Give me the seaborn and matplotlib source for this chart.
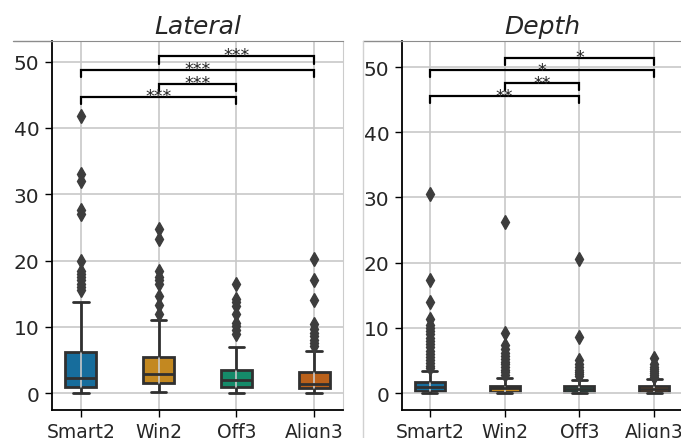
import pandas as pd
import matplotlib.pyplot as plt
from matplotlib.lines import Line2D
import seaborn as sns

groups = ["Smart2", "Win2", "Off3", "Align3"]

# Lateral: box stats
lat_lo = [0.0, 0.15, 0.1, 0.0]
lat_q1 = [1.0, 1.5, 0.9, 0.75]
lat_med = [2.36, 2.9, 2.0, 1.4]
lat_q3 = [6.27, 5.52, 3.5, 3.26]
lat_hi = [13.7, 11.05, 7.0, 6.33]
lat_fliers = [
    [15.6, 16.0, 16.4, 17.0, 17.5, 18.0, 18.4, 20.0, 27.0, 27.6, 32.0, 33.0, 41.8],
    [12.0, 13.3, 14.7, 16.5, 17.0, 17.5, 18.5, 23.3, 24.8],
    [9.0, 9.6, 10.2, 10.6, 12.0, 13.2, 13.7, 14.2, 16.5],
    [7.2, 7.6, 8.1, 8.6, 9.1, 9.7, 10.4, 14.1, 17.1, 20.3],
]

# Depth
dep_lo = [0.0, 0.0, 0.0, 0.0]
dep_q1 = [0.25, 0.2, 0.15, 0.2]
dep_med = [0.97, 0.77, 0.66, 0.66]
dep_q3 = [1.64, 1.12, 1.03, 1.07]
dep_hi = [3.33, 2.25, 2.0, 2.15]
dep_fliers = [
    [3.8, 4.2, 4.6, 5.0, 5.5, 6.0, 6.5, 7.0, 7.5, 8.0, 8.5, 9.0, 9.5, 10.0, 10.5, 11.3, 13.9, 17.4, 30.5],
    [2.8, 3.2, 3.6, 4.0, 4.4, 4.8, 5.2, 5.7, 6.2, 6.8, 7.4, 9.2, 26.2],
    [2.6, 2.9, 3.2, 3.6, 4.0, 4.5, 5.1, 8.6, 20.5],
    [2.5, 2.8, 3.1, 3.4, 3.7, 4.0, 4.5, 5.3],
]

# significance brackets
pairs = [(0, 2), (1, 2), (0, 3), (1, 3)]
lat_bar_y = [44.7, 46.65, 48.8, 50.8]
lat_stars = ["***", "***", "***", "***"]
dep_bar_y = [45.5, 47.5, 49.5, 51.4]
dep_stars = ["**", "**", "*", "*"]


def to_frame(lo, q1, med, q3, hi, fliers):
    # rebuild a sample whose quartiles/whiskers/outliers match the stats
    rows = []
    for i, g in enumerate(groups):
        k = len(fliers[i]) + 1
        vals = [lo[i]] * k + [q1[i]] * k + [med[i]] * k + [q3[i], hi[i]] + fliers[i]
        rows += [(g, v) for v in vals]
    return pd.DataFrame(rows, columns=["group", "value"])


df_lat = to_frame(lat_lo, lat_q1, lat_med, lat_q3, lat_hi, lat_fliers)
df_dep = to_frame(dep_lo, dep_q1, dep_med, dep_q3, dep_hi, dep_fliers)

sns.set_style("whitegrid")
plt.rcParams['font.family'] = ['DejaVu Sans']

fig = plt.figure(figsize=(6.81, 4.39), dpi=100)
ax1 = fig.add_axes([52 / 681, 28 / 439, 291 / 681, 369 / 439])
ax2 = fig.add_axes([402 / 681, 28 / 439, 280 / 681, 369 / 439])


def draw(ax, df, title, ylim, bar_y, stars, h):
    sns.boxplot(data=df, x="group", y="value", hue="group", palette="colorblind",
                width=0.4, linewidth=2, legend=False, ax=ax,
                flierprops={"marker": "d", "markersize": 7.5,
                            "markerfacecolor": "#3d3d3d", "markeredgecolor": "#3d3d3d"})
    for p in ax.patches:
        p.set_zorder(1)
    ax.set_axisbelow("line")
    ax.grid(True, axis="both", color="#c8c8c8", lw=1.2)
    ax.set_ylim(*ylim)
    ax.set_yticks([0, 10, 20, 30, 40, 50])
    ax.set_xlabel("")
    ax.set_ylabel("")
    ax.set_title(title, fontsize=18, style="italic", pad=6)
    ax.tick_params(axis="y", labelsize=14.5)
    ax.tick_params(axis="x", labelsize=13.5)
    ax.tick_params(axis="both", length=5, width=1, color="black",
                   left=True, bottom=True, pad=4)
    for s in ["left", "bottom"]:
        ax.spines[s].set_color("black")
        ax.spines[s].set_linewidth(1.3)
    ax.spines["top"].set_color("0.55")
    ax.spines["right"].set_color("0.8")
    for (a, b), y, s in zip(pairs, bar_y, stars):
        ax.plot([a, a, b, b], [y - h, y, y, y - h], color="black", lw=1.6,
                zorder=5, solid_joinstyle="miter")
        ax.annotate(s, xy=((a + b) / 2, y), xytext=(0, -3.0), textcoords="offset points",
                    ha="center", va="baseline", fontsize=12.5, zorder=6)


draw(ax1, df_lat, "Lateral", (-2.52, 53.1), lat_bar_y, lat_stars, 1.15)
draw(ax2, df_dep, "Depth", (-2.6, 54.0), dep_bar_y, dep_stars, 1.05)

# outer frame lines visible in the reference
ytop = 1 - 42 / 439
fig.add_artist(Line2D([13 / 681, 52 / 681], [ytop, ytop], color="0.55", lw=1,
                      transform=fig.transFigure))
fig.add_artist(Line2D([363 / 681, 402 / 681], [ytop, ytop], color="0.55", lw=1,
                      transform=fig.transFigure))
fig.add_artist(Line2D([363 / 681, 363 / 681], [0, ytop], color="0.82", lw=1,
                      transform=fig.transFigure))

fig.savefig("out.png", dpi=100)
